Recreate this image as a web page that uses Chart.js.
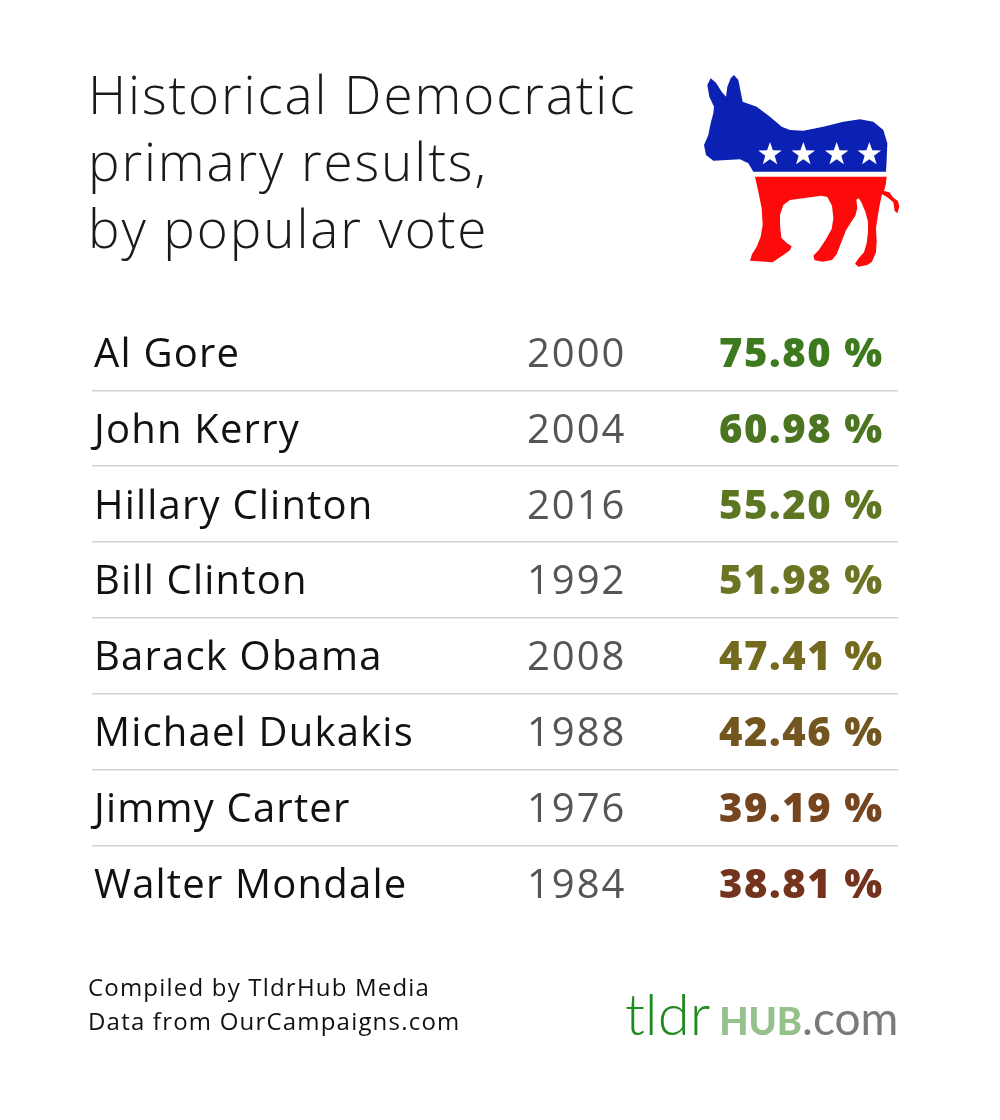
<!DOCTYPE html>
<html>
<head>
<meta charset="utf-8">
<script src="https://cdn.jsdelivr.net/npm/chart.js@4.4.1/dist/chart.umd.min.js"></script>
<style>
  html, body { margin: 0; padding: 0; background: #fff; }
  #wrap { width: 1000px; height: 1120px; position: relative; }
</style>
</head>
<body>
<div id="wrap"><canvas id="c"></canvas></div>
<script>
// data
const names = ['Al Gore', 'John Kerry', 'Hillary Clinton', 'Bill Clinton', 'Barack Obama', 'Michael Dukakis', 'Jimmy Carter', 'Walter Mondale'];
const years = ['2000', '2004', '2016', '1992', '2008', '1988', '1976', '1984'];
const shares = [75.80, 60.98, 55.20, 51.98, 47.41, 42.46, 39.19, 38.81];

// percent colours, green -> brown
const pctColors = ['#3d7a1e', '#4b7520', '#5d7622', '#6d7424', '#746a1f', '#73561f', '#74451f', '#73331c'];

const FONT = '"Open Sans", Lato, sans-serif';
const TEXT_DROP = 3; // text sits a touch below the row centre

const blueBody = [[190,335],[175,310],[150,298],[110,300],[70,302],[48,285],[42,255],[55,225],[62,190],[70,160],[72,140],
  [58,110],[52,75],[62,55],[78,68],[95,95],[108,110],[112,80],[122,55],[132,45],[145,60],[152,95],[158,125],[200,140],
  [240,170],[275,200],[300,210],[340,212],[400,200],[460,185],[510,178],[550,185],[580,210],[592,250],[590,300],[588,335]];
const redBody = [[45,35],[440,35],[437,60],[432,78],[448,82],[460,98],[474,108],[478,125],[472,145],[464,138],[460,112],
  [442,97],[426,88],[420,115],[414,150],[408,190],[410,230],[408,262],[396,290],[382,300],[355,305],[345,296],[356,280],
  [372,262],[380,235],[384,200],[384,170],[376,140],[364,112],[356,100],[349,104],[352,128],[346,152],[333,172],[318,196],
  [304,232],[290,268],[276,285],[248,290],[224,286],[220,272],[236,256],[256,226],[275,192],[280,160],[276,122],[262,96],
  [245,92],[200,98],[150,105],[130,120],[120,150],[120,180],[124,218],[140,234],[155,244],[150,256],[130,270],[112,282],
  [98,292],[30,287],[36,268],[50,245],[62,215],[68,180],[65,130],[55,80]];

function fillPoly(ctx, pts) {
  ctx.beginPath();
  pts.forEach((p, i) => i ? ctx.lineTo(p[0], p[1]) : ctx.moveTo(p[0], p[1]));
  ctx.closePath();
  ctx.fill();
}

function star(ctx, cx, cy, r) {
  ctx.beginPath();
  for (let k = 0; k < 10; k++) {
    const rad = k % 2 ? r * 0.4 : r;
    const a = -Math.PI / 2 + k * Math.PI / 5;
    ctx.lineTo(cx + rad * Math.cos(a), cy + rad * Math.sin(a));
  }
  ctx.closePath();
  ctx.fill();
}

// the original uses a wide typeface, so open the letters up a bit
const spacing = {
  id: 'spacing',
  afterLayout(chart) {
    const tb = chart.titleBlock;
    if (tb && !tb._spaced) {
      const orig = tb.draw;
      tb.draw = function () {
        const c = this.ctx, old = c.letterSpacing;
        c.letterSpacing = '1.9px';
        orig.apply(this, arguments);
        c.letterSpacing = old;
      };
      tb._spaced = true;
    }
  },
  beforeDraw(chart) { chart.ctx.letterSpacing = '1.2px'; },
  afterDraw(chart) { chart.ctx.letterSpacing = '0px'; }
};

// year + percentage columns, placed on the y scale rows
const rowText = {
  id: 'rowText',
  afterDatasetsDraw(chart) {
    const ctx = chart.ctx, y = chart.scales.y;
    ctx.save();
    ctx.textBaseline = 'middle';
    ctx.textAlign = 'left';
    names.forEach((n, i) => {
      const py = y.getPixelForValue(i) + TEXT_DROP;
      ctx.letterSpacing = '2px';
      ctx.font = '400 40px ' + FONT;
      ctx.fillStyle = '#555555';
      ctx.fillText(years[i], 527, py);
      ctx.letterSpacing = '1.6px';
      ctx.font = '800 40px ' + FONT;
      ctx.fillStyle = pctColors[i];
      ctx.fillText(shares[i].toFixed(2) + ' %', 719, py);
    });
    ctx.restore();
  }
};

// donkey + tldrhub logo
const decor = {
  id: 'decor',
  afterDraw(chart) {
    const ctx = chart.ctx;
    ctx.save();
    ctx.translate(690, 60);
    ctx.scale(1 / 3, 1 / 3);
    ctx.fillStyle = '#0b21b3';
    fillPoly(ctx, blueBody);
    ctx.fillStyle = '#ffffff';
    [240, 340, 440, 538].forEach(sx => star(ctx, sx, 283, 37));
    ctx.restore();

    ctx.save();
    ctx.translate(740, 165);
    ctx.scale(1 / 3, 1 / 3);
    ctx.fillStyle = '#fd0a0a';
    fillPoly(ctx, redBody);
    ctx.restore();

    ctx.save();
    ctx.letterSpacing = '0px';
    ctx.textBaseline = 'alphabetic';
    ctx.textAlign = 'left';
    let x = 625;
    ctx.font = '300 58px Lato, sans-serif';
    ctx.fillStyle = '#1f8a1f';
    ctx.fillText('tldr', x, 1035);
    x += ctx.measureText('tldr').width + 9;
    ctx.font = '900 38px Lato, sans-serif';
    ctx.fillStyle = '#95c18d';
    ctx.fillText('HUB', x, 1035);
    x += ctx.measureText('HUB').width;
    ctx.font = '400 46px Lato, sans-serif';
    ctx.fillStyle = '#7a7a7a';
    ctx.fillText('.com', x, 1035);
    ctx.restore();
  }
};

new Chart(document.getElementById('c'), {
  type: 'bar',
  data: {
    labels: names,
    datasets: [{
      data: shares,
      backgroundColor: 'rgba(0,0,0,0)',
      borderWidth: 0
    }]
  },
  options: {
    indexAxis: 'y',
    responsive: true,
    maintainAspectRatio: false,
    animation: false,
    layout: { padding: { top: 40, bottom: 40, left: 88, right: 102 } },
    scales: {
      x: { display: false, min: 0, max: 100 },
      y: {
        border: { display: false },
        grid: {
          offset: true,
          drawTicks: false,
          lineWidth: 1.5,
          color: c => (c.type === 'tick' && c.index > 0) ? '#d2d2d2' : 'rgba(0,0,0,0)'
        },
        ticks: {
          mirror: true,
          padding: 2,
          labelOffset: TEXT_DROP,
          color: '#111111',
          font: { family: FONT, size: 40 }
        }
      }
    },
    plugins: {
      legend: { display: false },
      tooltip: { enabled: false },
      title: {
        display: true,
        text: ['Historical Democratic', 'primary results,', 'by popular vote'],
        align: 'start',
        color: '#1a1a1a',
        font: { family: FONT, size: 53, weight: 300, lineHeight: 1.26 },
        padding: { top: 26, bottom: 48 }
      },
      subtitle: {
        display: true,
        position: 'bottom',
        text: ['Compiled by TldrHub Media', 'Data from OurCampaigns.com'],
        align: 'start',
        color: '#111111',
        font: { family: FONT, size: 24, lineHeight: 1.4 },
        padding: { top: 51, bottom: 40 }
      }
    }
  },
  plugins: [spacing, rowText, decor]
});
</script>
</body>
</html>
